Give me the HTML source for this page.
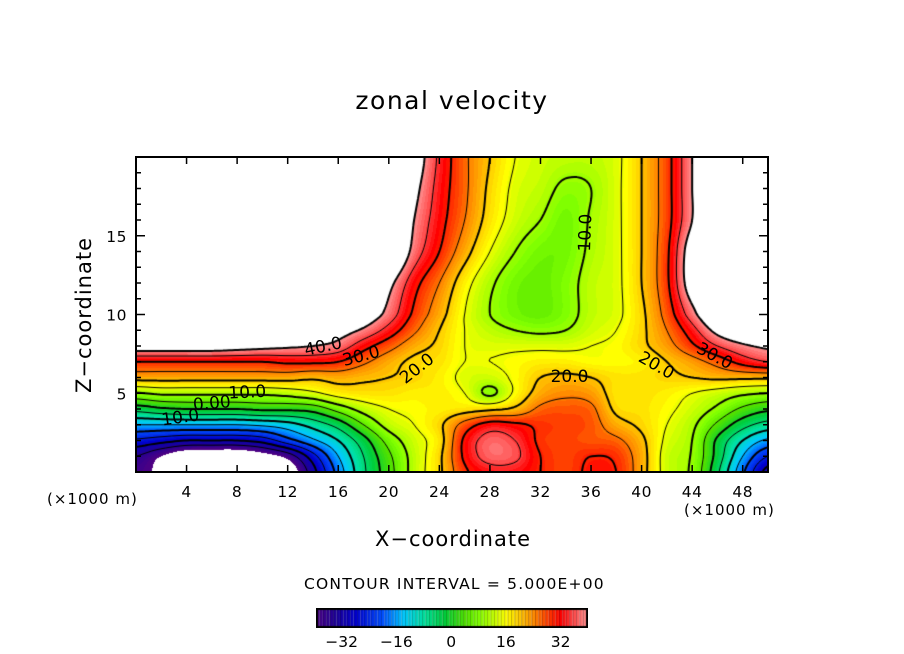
<!DOCTYPE html>
<html><head><meta charset="utf-8">
<style>
html,body{margin:0;padding:0;background:#fff;}
#root{position:relative;width:904px;height:654px;overflow:hidden;background:#fff;font-family:"DejaVu Sans","Liberation Sans",sans-serif;color:#000;}
.t{position:absolute;white-space:nowrap;}
canvas{position:absolute;}
</style></head>
<body>
<div id="root">
  <div class="t" style="left:0;width:904px;text-align:center;top:86px;font-size:25px;letter-spacing:1.5px;">zonal velocity</div>
  <canvas id="plot" width="632" height="315" style="left:136px;top:157px;"></canvas>
  <svg id="axes" width="904" height="654" style="position:absolute;left:0;top:0;"></svg>
  <div class="t" style="left:375px;top:527px;font-size:21px;letter-spacing:1px;">X−coordinate</div>
  <div class="t" style="left:84px;top:315px;font-size:21px;letter-spacing:1px;transform:translate(-50%,-50%) rotate(-90deg);">Z−coordinate</div>
  <div class="t" style="left:47px;top:490px;font-size:15px;letter-spacing:1px;">(×1000 m)</div>
  <div class="t" style="left:684px;top:501px;font-size:15px;letter-spacing:1px;">(×1000 m)</div>
  <div class="t" style="left:304px;top:575px;font-size:15.5px;letter-spacing:1.2px;">CONTOUR INTERVAL = 5.000E+00</div>
  <canvas id="cbar" width="272" height="20" style="left:316px;top:608px;"></canvas>
</div>
<script>
// ---- data ----
const xGrid = [0,2,4,6,8,10,12,14,16,18,20,22,24,26,28,30,32,34,36,38,40,42,44,46,48,50];
const zGrid = [0,1,2,3,4,5,6,7,8,9,10,12,14,16,18,20];
const row_z0  = [-38,-42,-50,-52,-52,-52,-45,-32,-18,-6,3,12,19,29,33,33,30,28,31,30,22,13,9,-4,-19,-32];
const row_z1  = [-35,-40,-45,-46,-46,-43,-38,-27,-15,-5,4,12,19,31,37,36,30,28,30,29,22,13,9.5,-2,-15,-25];
const row_z2  = [-26,-28,-30,-30,-30,-28,-22,-16,-10,-2,7,13,18,31,37,35,29,28,27,26,21,14,10,-1,-10,-16];
const row_z3  = [-15,-15,-15,-15,-15,-14,-12,-8,-3,5,12,15,19,27,32,31,29,28,27,22,19,15,11,4,-3,-7];
const row_z4  = [-3,-1,0,0,0,1,1,2,7,12,15,16,17,18,19,21,26,27,26,19,18,16,13,9,4,1];
const row_z5  = [9.5,11,11,11,11,11,12,14,17,18,18,17,17,15,9,16,22,24,23,18,18,17,15,13,11,10];
const row_z6  = [22,22,22,22,22,22,22,21,22,21,20,19,17,14,13,16,20,21,20,18,18,19,20,21,21,21];
const row_z7  = [30,30,30,30,30,30,31,31,30,26,22,19,18,15,15,16,17,17,16,16,17,20,23,27,32,35];
const row_z8  = [44,44,44,44,43,42,41,40,38,32,27,22,19,15,14,14,14,14,15,16,19,23,29,35,39,41];
const row_z9  = [50,50,50,50,50,49,47,45,43,39,33,26,20,15,12,10,9,10,13,15,19,25,33,42,46,47];
const row_z10 = [50,50,50,50,50,50,50,50,50,45,38,29,22,15,10,7,6,8,12,14,19,27,38,48,50,50];
const row_z12 = [50,50,50,50,50,50,50,50,50,50,42,32,25,17,11,7,6,8,12,14,20,29,44,50,50,50];
const row_z14 = [50,50,50,50,50,50,50,50,50,50,50,38,30,22,15,10,7,7,11,14,20,29,44,50,50,50];
const row_z16 = [50,50,50,50,50,50,50,50,50,50,50,40,32,25,18,13,10,7,10.5,14,20,28,40,50,50,50];
const row_z18 = [50,50,50,50,50,50,50,50,50,50,50,42,33,26,19,14,12,9,10,14,20,28,40,50,50,50];
const row_z20 = [50,50,50,50,50,50,50,50,50,50,50,44,34,26,20,15,13,12,12,14,20,28,40,50,50,50];
const levels = [-35,-30,-25,-20,-15,-10,-5,0,5,10,15,20,25,30,35,40];
const xTicks = [4,8,12,16,20,24,28,32,36,40,44,48];
const zTicks = [5,10,15];
const cbarTicks = [-32,-16,0,16,32];
const contourLabels = [
 {t:"40.0",x:14.8,z:8.0,r:-12},{t:"30.0",x:17.8,z:7.4,r:-15},{t:"20.0",x:22.2,z:6.6,r:-38},
 {t:"10.0",x:35.5,z:15.2,r:-88},{t:"20.0",x:34.3,z:6.1,r:0},{t:"20.0",x:41.2,z:6.8,r:30},
 {t:"30.0",x:45.8,z:7.4,r:28},{t:"10.0",x:8.8,z:5.1,r:-3},{t:"0.00",x:6.0,z:4.4,r:-5},{t:"10.0",x:3.5,z:3.5,r:-8}
];
const rows = [row_z0,row_z1,row_z2,row_z3,row_z4,row_z5,row_z6,row_z7,row_z8,row_z9,row_z10,row_z12,row_z14,row_z16,row_z18,row_z20];

// ---- scales ----
const PX0=136, PX1=768, PY0=157, PY1=472;
const xs = x => PX0 + (x-0)/(50-0)*(PX1-PX0);
const zs = z => PY1 - (z-0)/(20-0)*(PY1-PY0);

function zIndex(z){
  for(let k=0;k<zGrid.length-1;k++){ if(z<=zGrid[k+1]) return k+(z-zGrid[k])/(zGrid[k+1]-zGrid[k]); }
  return zGrid.length-1;
}
function xIndex(x){ return (x-xGrid[0])/(xGrid[1]-xGrid[0]); }
function cr(p0,p1,p2,p3,t){ return 0.5*((2*p1)+(-p0+p2)*t+(2*p0-5*p1+4*p2-p3)*t*t+(-p0+3*p1-3*p2+p3)*t*t*t); }
function g(i,j){ i=Math.max(0,Math.min(xGrid.length-1,i)); j=Math.max(0,Math.min(zGrid.length-1,j)); return rows[j][i]; }
function field(x,z){
  const u=xIndex(x), v=zIndex(z);
  let i=Math.floor(u), j=Math.floor(v); if(i>=xGrid.length-1)i=xGrid.length-2; if(j>=zGrid.length-1)j=zGrid.length-2;
  const tu=u-i, tv=v-j; const c=[];
  for(let k=-1;k<=2;k++) c.push(cr(g(i-1,j+k),g(i,j+k),g(i+1,j+k),g(i+2,j+k),tu));
  return cr(c[0],c[1],c[2],c[3],tv);
}
const cstops=[[-40,[80,0,130]],[-34,[30,0,150]],[-28,[0,0,205]],[-20,[0,80,255]],[-14,[0,200,255]],[-8,[0,225,160]],[-2,[0,205,60]],[4,[80,225,0]],[8,[128,255,0]],[12,[190,255,0]],[16,[255,255,0]],[20,[255,200,0]],[24,[255,140,0]],[28,[255,64,0]],[32,[255,0,0]],[36,[255,80,80]],[40,[255,150,150]]];
function cmap(v){
  v=Math.round(v);
  for(let k=0;k<cstops.length-1;k++){const a=cstops[k],b=cstops[k+1]; if(v<=b[0]){const t=Math.max(0,(v-a[0])/(b[0]-a[0])); return [0,1,2].map(q=>Math.round(a[1][q]+(b[1][q]-a[1][q])*t));}}
  return cstops[cstops.length-1][1];
}
// ---- fill ----
const cv=document.getElementById('plot'), ctx=cv.getContext('2d');
const W=cv.width,H=cv.height, img=ctx.createImageData(W,H);
const sx=(PX1-PX0)/W, sz=(PY1-PY0)/H;
for(let j=0;j<H;j++){ const z=(PY1-(PY0+(j+0.5)*sz))/(PY1-PY0)*20;
  for(let i=0;i<W;i++){ const x=((i+0.5)*sx)/(PX1-PX0)*50; const v=field(x,z); const o=(j*W+i)*4;
    let c = (v>40||v<-40)?[255,255,255]:cmap(v); img.data[o]=c[0];img.data[o+1]=c[1];img.data[o+2]=c[2];img.data[o+3]=255; } }
ctx.putImageData(img,0,0);
// ---- contours ----
const st=3, NX=Math.ceil(W/st)+1, NZ=Math.ceil(H/st)+1; const F=[];
for(let j=0;j<NZ;j++){F.push([]);const py=Math.min(H,j*st);const z=(H-py)/H*20;for(let i=0;i<NX;i++){const px=Math.min(W,i*st);F[j].push(field(px/W*50,z));}}
for(const L of levels){
  ctx.beginPath(); ctx.strokeStyle='#000'; ctx.lineWidth=(L%10===0)?2:1; ctx.setLineDash(L<0?[4,3]:[]);
  for(let j=0;j<NZ-1;j++)for(let i=0;i<NX-1;i++){
    const x0=Math.min(W,i*st),x1=Math.min(W,(i+1)*st),y0=Math.min(H,j*st),y1=Math.min(H,(j+1)*st);
    const a=F[j][i],b=F[j][i+1],c=F[j+1][i+1],d=F[j+1][i]; const pts=[];
    const e=(p,q,P,Q)=>{ if((p<L)!==(q<L)){const t=(L-p)/(q-p); pts.push([P[0]+(Q[0]-P[0])*t,P[1]+(Q[1]-P[1])*t]);} };
    e(a,b,[x0,y0],[x1,y0]); e(b,c,[x1,y0],[x1,y1]); e(d,c,[x0,y1],[x1,y1]); e(a,d,[x0,y0],[x0,y1]);
    if(pts.length>=2){ctx.moveTo(pts[0][0],pts[0][1]);ctx.lineTo(pts[1][0],pts[1][1]);}
    if(pts.length===4){ctx.moveTo(pts[2][0],pts[2][1]);ctx.lineTo(pts[3][0],pts[3][1]);}
  }
  ctx.stroke();
}
ctx.setLineDash([]);
// ---- axes ----
const NS='http://www.w3.org/2000/svg', svg=document.getElementById('axes');
const FONT='DejaVu Sans, Liberation Sans, sans-serif';
function mk(tag,attrs){const el=document.createElementNS(NS,tag);for(const k in attrs)el.setAttribute(k,attrs[k]);svg.appendChild(el);return el;}
const frame=mk('rect',{x:PX0,y:PY0,width:PX1-PX0,height:PY1-PY0,fill:'none',stroke:'#000','stroke-width':2});


for(const t of xTicks){
  const X=xs(t);
  const tk=mk('path',{d:`M${X},${PY1}V${PY1-7}M${X},${PY0}V${PY0+7}`,stroke:'#000','stroke-width':1.5});
  
  
  const lb=mk('text',{x:X,y:PY1+25,'text-anchor':'middle','font-size':15.5,'letter-spacing':0.5,'font-family':FONT});
  lb.textContent=String(t);
  
  
}
for(let z=1;z<20;z++){
  const Y=zs(z), len=(z%5===0)?9:5;
  const tk=mk('path',{d:`M${PX0},${Y}H${PX0+len}M${PX1},${Y}H${PX1-len}`,stroke:'#000','stroke-width':1.5});
  
  
}
for(const t of zTicks){
  const lb=mk('text',{x:PX0-9,y:zs(t)+6,'text-anchor':'end','font-size':15.5,'letter-spacing':0.5,'font-family':FONT});
  lb.textContent=String(t);
  
  
}
for(const c of contourLabels){
  const X=xs(c.x),Y=zs(c.z);
  const lb=mk('text',{x:X,y:Y+6,'text-anchor':'middle','font-size':17,'font-family':FONT,transform:`rotate(${c.r} ${X} ${Y})`});
  lb.textContent=c.t;
  
  
}
// ---- colorbar ----
const cb=document.getElementById('cbar'), cbx=cb.getContext('2d'); const CMIN=-39.5, CMAX=40;
const cbs = v => (v-CMIN)/(CMAX-CMIN)*cb.width;
for(let v=-40;v<=40;v++){const c=cmap(v);const x0=Math.max(0,cbs(v-0.5)),x1=Math.min(cb.width,cbs(v+0.5));
  cbx.fillStyle=`rgb(${c[0]},${c[1]},${c[2]})`;cbx.fillRect(x0,0,x1-x0,cb.height);
  cbx.fillStyle='rgba(0,0,0,0.25)';cbx.fillRect(x0,0,1,cb.height);}
cbx.strokeStyle='#000';cbx.lineWidth=2;cbx.strokeRect(1,1,cb.width-2,cb.height-2);
for(const t of cbarTicks){
  const lb=mk('text',{x:316+cbs(t),y:647,'text-anchor':'middle','font-size':15.5,'font-family':FONT});
  lb.textContent=(t<0?'−'+Math.abs(t):String(t));
  
  
}
</script>
</body></html>
